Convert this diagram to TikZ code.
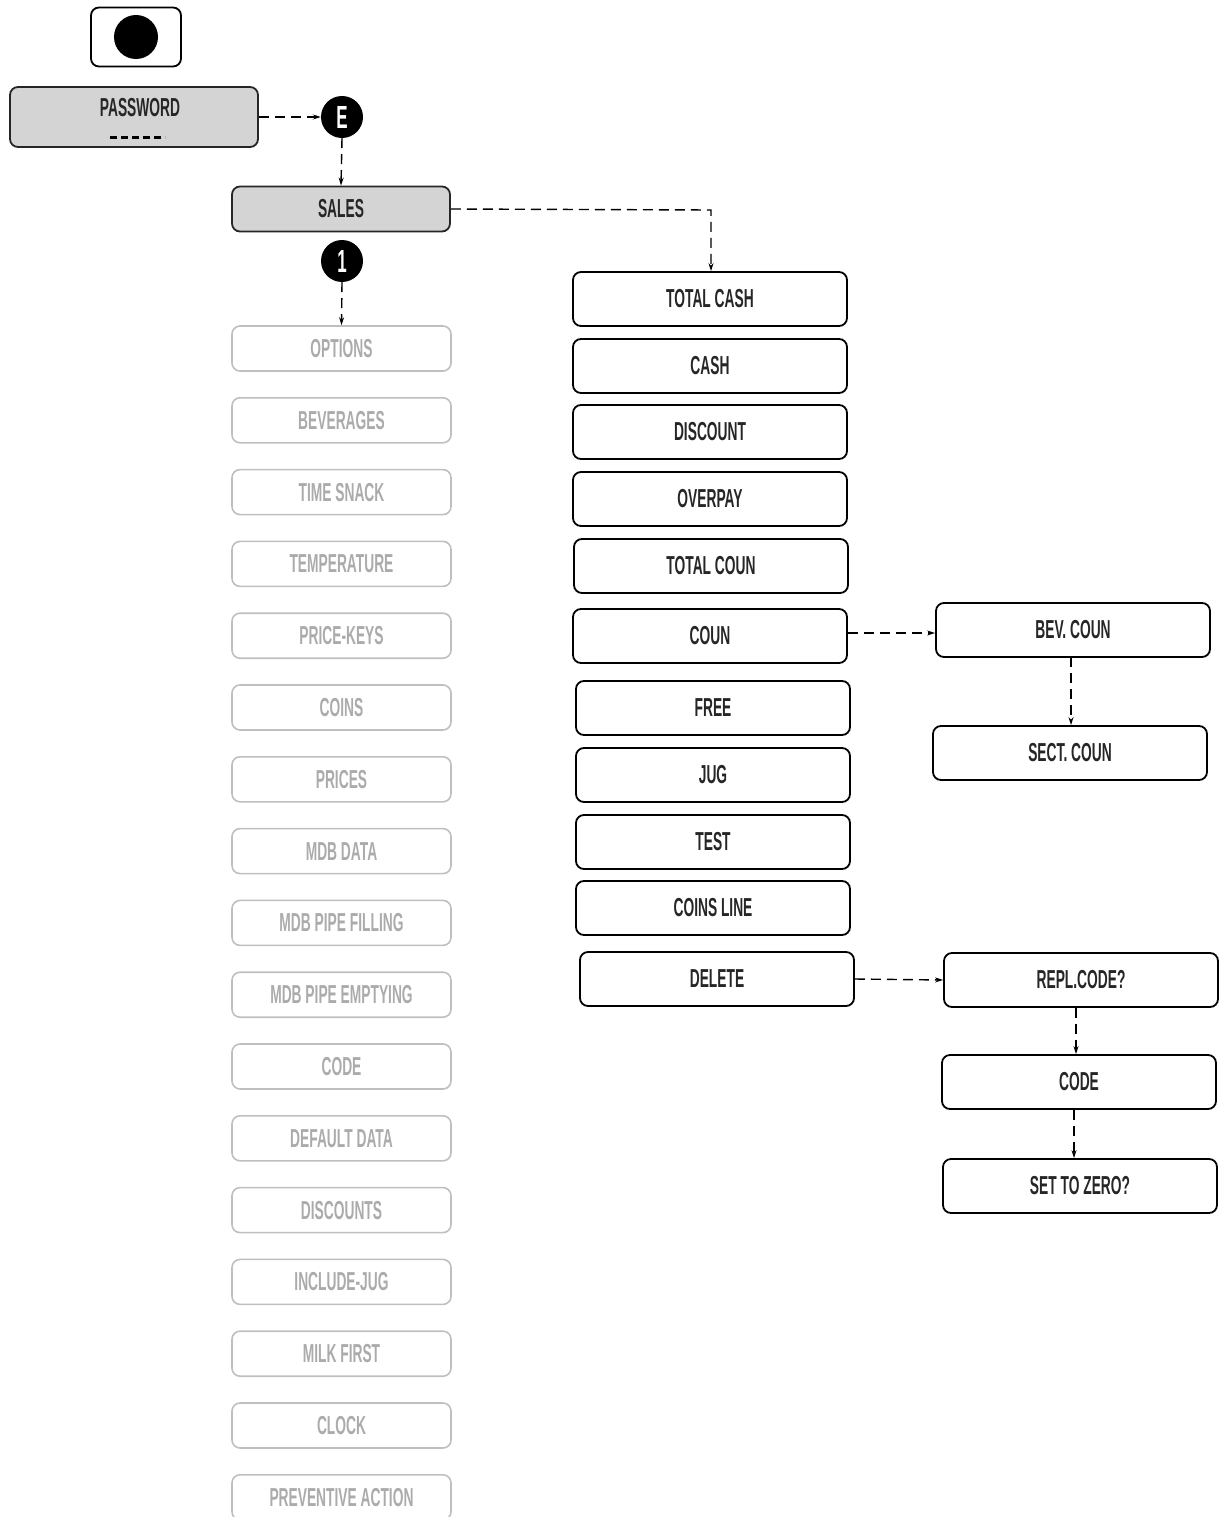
\documentclass[tikz,border=0pt]{standalone}
\usepackage{fontspec}
\setmainfont{Liberation Sans}[FakeStretch=0.53]
\usetikzlibrary{arrows.meta}
\begin{document}
\begin{tikzpicture}[x=1pt,y=-1pt,
  every node/.style={font=\fontsize{26}{28}\bfseries\selectfont},
  base/.style={rounded corners=8pt, line width=1.8pt, inner sep=0pt},
  mbox/.style={base, draw=black, minimum width=274pt, minimum height=54pt, text=black!85},
  sbox/.style={base, draw=black!85, fill=black!17, text=black!85},
  gbox/.style={base, draw=black!25, line width=1.6pt, text=black!33, minimum width=219pt, minimum height=45pt},
  badge/.style={circle, fill=black, text=white, minimum size=42pt, inner sep=0pt, font=\fontsize{32}{32}\bfseries\selectfont},
  link/.style={dashed, dash pattern=on 10pt off 6pt, line width=1.4pt, -{Stealth[length=8pt,width=5pt]}}
]
\useasboundingbox (0,0) rectangle (1221,1517);

% top key
\node[base, draw=black, minimum width=90pt, minimum height=59pt] (key) at (136,37) {};
\node[circle, fill=black, minimum size=44pt, inner sep=0pt] (dot) at (136,37) {};

% password
\node[sbox, minimum width=248pt, minimum height=60pt] (pw) at (134,117) {};
\node[inner sep=0pt, text=black!85] (pwtext) at (140,108) {PASSWORD};
\draw[dash pattern=on 7pt off 4pt, line width=3pt] (110,138) -- (165,138);

\node[badge] (E) at (342,117) {E};
\node[sbox, minimum width=218pt, minimum height=45pt] (sales) at (341,209) {SALES};
\node[badge] (one) at (342,261) {1};

\draw[link] (pw.east) -- (E.west);
\draw[link] (E.south) -- (sales.north);

% grey menu list
\foreach \n/\t [count=\i from 0] in {
  opt/OPTIONS, bev/BEVERAGES, ts/TIME SNACK, temp/TEMPERATURE, pk/PRICE-KEYS,
  coins/COINS, prices/PRICES, mdb/MDB DATA, mdbf/MDB PIPE FILLING,
  mdbe/MDB PIPE EMPTYING, code/CODE, dd/DEFAULT DATA, disc/DISCOUNTS,
  ij/INCLUDE-JUG, mf/MILK FIRST, clock/CLOCK, pa/PREVENTIVE ACTION}
  \node[gbox] (\n) at (341.5,{348.5+71.8*\i}) {\t};

\draw[link] (one.south) -- (opt.north);

% sales sub-menu
\node[mbox] (tc)   at (710,299) {TOTAL CASH};
\node[mbox] (cash) at (710,366) {CASH};
\node[mbox] (dis)  at (710,432) {DISCOUNT};
\node[mbox] (ov)   at (710,499) {OVERPAY};
\node[mbox] (tcn)  at (711,566) {TOTAL COUN};
\node[mbox] (coun) at (710,636) {COUN};
\node[mbox] (free) at (713,708) {FREE};
\node[mbox] (jug)  at (713,775) {JUG};
\node[mbox] (test) at (713,842) {TEST};
\node[mbox] (cl)   at (713,908) {COINS LINE};
\node[mbox] (del)  at (717,979) {DELETE};

\coordinate (bend) at (711,210);
\draw[link] (sales.east) -- (bend) -- (tc.north -| bend);

% coun sub-menu
\node[mbox] (bevc)  at (1073,630) {BEV. COUN};
\node[mbox] (sectc) at (1070,753) {SECT. COUN};
\draw[link] (coun.east |- 0,633) -- (bevc.west |- 0,633);
\draw[link] (1071,657) -- (sectc.north -| 1071,0);

% delete sub-menu
\node[mbox] (repl) at (1081,980) {REPL.CODE?};
\node[mbox] (code2) at (1079,1082) {CODE};
\node[mbox] (stz) at (1080,1186) {SET TO ZERO?};
\draw[link] (del.east) -- (repl.west);
\draw[link] (repl.south -| 1076,0) -- (code2.north -| 1076,0);
\draw[link] (code2.south -| 1074,0) -- (stz.north -| 1074,0);
\end{tikzpicture}
\end{document}
